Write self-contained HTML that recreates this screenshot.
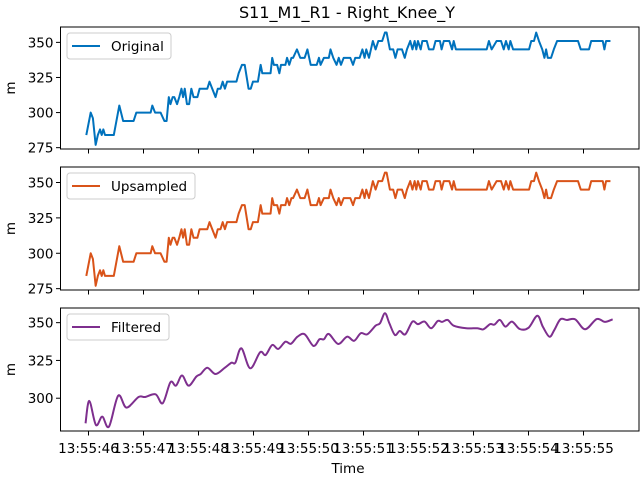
<!DOCTYPE html>
<html><head><meta charset="utf-8"><style>
body{margin:0;background:#fff;}
svg{display:block;font-family:"DejaVu Sans","Liberation Sans",sans-serif;}
</style></head><body>
<svg id="chart" width="640" height="480" viewBox="0 0 640 480" xmlns="http://www.w3.org/2000/svg">
<rect width="640" height="480" fill="#fff"/>
<text x="347" y="18" font-size="16" text-anchor="middle" fill="#000">S11_M1_R1 - Right_Knee_Y</text>
<text x="348" y="473" font-size="13.5" text-anchor="middle" fill="#000">Time</text>
</svg>
<script>
// time in seconds after 13:55:46
const rawTimes = [-0.04,0.04,0.08,0.13,0.17,0.21,0.24,0.27,0.30,0.46,0.56,0.63,0.82,0.87,1.13,1.16,1.21,1.31,1.38,1.42,1.46,1.49,1.53,1.56,1.61,1.65,1.69,1.72,1.75,1.79,1.83,1.87,1.91,1.98,2.02,2.16,2.20,2.25,2.31,2.35,2.40,2.44,2.48,2.52,2.69,2.73,2.79,2.84,2.91,2.95,2.99,3.08,3.13,3.16,3.31,3.34,3.37,3.43,3.47,3.50,3.58,3.61,3.65,3.69,3.72,3.79,3.85,3.93,3.98,4.04,4.15,4.19,4.22,4.28,4.37,4.40,4.45,4.51,4.55,4.59,4.64,4.76,4.81,4.85,4.93,4.98,5.02,5.05,5.10,5.17,5.22,5.27,5.34,5.39,5.42,5.48,5.54,5.58,5.62,5.70,5.75,5.79,5.85,5.89,5.93,5.96,5.99,6.04,6.07,6.15,6.19,6.27,6.31,6.39,6.42,6.46,6.56,6.61,6.64,6.68,7.24,7.28,7.33,7.42,7.50,7.55,7.59,7.64,7.67,7.72,8.01,8.05,8.10,8.14,8.19,8.25,8.29,8.32,8.35,8.41,8.46,8.52,8.90,8.95,9.10,9.14,9.35,9.38,9.41,9.49];
const rawValues = [284,300,296,277,284,288,284,288,284,284,305,294,294,300,300,305,300,300,294,294,311,306,311,311,306,311,317,311,317,306,306,317,311,311,317,317,322,317,311,317,317,322,317,322,322,328,334,334,317,317,322,322,334,328,328,339,334,334,328,334,334,339,334,339,339,345,339,339,345,334,334,339,334,339,339,345,339,334,339,334,339,339,334,339,339,345,339,345,339,351,345,351,351,357,357,345,345,339,345,345,339,345,351,345,351,345,351,345,351,351,345,345,351,351,345,351,351,345,351,345,345,351,345,351,351,345,351,345,351,345,345,351,351,357,351,345,339,345,339,339,345,351,351,345,345,351,351,345,351,351];
const filtTimes = [-0.054,0.014,0.135,0.25,0.372,0.54,0.69,0.91,1.03,1.22,1.35,1.49,1.59,1.70,1.82,1.96,2.04,2.16,2.31,2.48,2.60,2.67,2.78,2.94,3.12,3.22,3.34,3.45,3.58,3.68,3.80,3.93,4.09,4.20,4.28,4.37,4.54,4.70,4.83,4.95,5.07,5.22,5.30,5.39,5.47,5.57,5.66,5.76,5.89,5.99,6.11,6.23,6.35,6.43,6.53,6.64,6.87,7.07,7.18,7.30,7.38,7.48,7.58,7.70,7.84,8.0,8.16,8.26,8.38,8.47,8.58,8.70,8.85,9.03,9.24,9.39,9.53];
const filtValues = [283.4,298.2,282.3,287.8,281.2,301.7,293.8,300.8,300.8,302.6,296.7,310.6,308.3,315,308.3,314.3,316,320.2,316,320.2,323.5,323.5,333,319.8,330.4,328.6,335.2,332.6,337.4,336,340.7,342.3,334.6,339,339,342.5,335.9,340.7,338,343,342.3,348,349.6,356.2,349.6,341.9,344.5,342.3,350.7,349,350.7,346.3,351.1,350.5,351.8,348,346.3,346.3,345.6,349,348.7,351.8,347.4,350.7,345.8,346.6,354.6,347.4,340.7,345.2,352.2,351.8,352.2,345.6,352.4,350.5,352.2];
const xTickSeconds = [0,1,2,3,4,5,6,7,8,9];
const xTickLabels = ["13:55:46","13:55:47","13:55:48","13:55:49","13:55:50","13:55:51","13:55:52","13:55:53","13:55:54","13:55:55"];
const yTicksTop = [275,300,325,350];
const yTicksBottom = [300,325,350];

const NS="http://www.w3.org/2000/svg";
const svg=document.getElementById('chart');
const L=60.5,R=639;
const xs=t=>88.5+t*55;
function mk(tag,attrs,parent){const e=document.createElementNS(NS,tag);for(const k in attrs)e.setAttribute(k,attrs[k]);(parent||svg).appendChild(e);return e;}

const panels=[
 {top:27,bot:149,ymin:274.05,ymax:360.95,ticks:yTicksTop,color:'#0072BD',label:'Original',lw:104,t:rawTimes,v:rawValues,smooth:false,name:'original'},
 {top:167,bot:290,ymin:274.05,ymax:360.95,ticks:yTicksTop,color:'#D95319',label:'Upsampled',lw:128,t:rawTimes,v:rawValues,smooth:false,name:'upsampled'},
 {top:308,bot:431,ymin:278.3,ymax:359.7,ticks:yTicksBottom,color:'#7E2F8E',label:'Filtered',lw:102,t:filtTimes,v:filtValues,smooth:true,name:'filtered'}
];
panels.forEach((p,i)=>{
 const g=mk('g',{});
 
 
 const ys=v=>p.bot-(v-p.ymin)/(p.ymax-p.ymin)*(p.bot-p.top);
 const pts=p.t.map((t,k)=>[xs(t),ys(p.v[k])]);
 let d='M'+pts[0][0].toFixed(2)+','+pts[0][1].toFixed(2);
 if(!p.smooth){for(let k=1;k<pts.length;k++)d+='L'+pts[k][0].toFixed(2)+','+pts[k][1].toFixed(2);}
 else{for(let k=0;k<pts.length-1;k++){const p0=pts[Math.max(0,k-1)],p1=pts[k],p2=pts[k+1],p3=pts[Math.min(pts.length-1,k+2)];
  const c1=[p1[0]+(p2[0]-p0[0])/6,p1[1]+(p2[1]-p0[1])/6],c2=[p2[0]-(p3[0]-p1[0])/6,p2[1]-(p3[1]-p1[1])/6];
  d+='C'+c1[0].toFixed(2)+','+c1[1].toFixed(2)+' '+c2[0].toFixed(2)+','+c2[1].toFixed(2)+' '+p2[0].toFixed(2)+','+p2[1].toFixed(2);}}
 const line=mk('path',{d:d,fill:'none',stroke:p.color,'stroke-width':2,'stroke-linejoin':'round'},g);
 
 
 const fr=mk('rect',{x:L,y:p.top,width:R-L,height:p.bot-p.top,fill:'none',stroke:'#000','stroke-width':1},g);
 
 
 p.ticks.forEach(v=>{const y=ys(v);
  mk('line',{x1:L-4.5,x2:L,y1:y,y2:y,stroke:'#000','stroke-width':1},g);
  const tx=mk('text',{x:L-7,y:y+5,'font-size':13.5,'text-anchor':'end',fill:'#000'},g);tx.textContent=v;
  
  });
 const yl=mk('text',{x:15,y:(p.top+p.bot)/2,'font-size':13.5,'text-anchor':'middle',transform:'rotate(-90 15 '+(p.top+p.bot)/2+')',fill:'#000'},g);
 yl.textContent='m';
 
 
 xTickSeconds.forEach((s,k)=>{const x=xs(s);
  mk('line',{x1:x,x2:x,y1:p.bot,y2:p.bot+4.5,stroke:'#000','stroke-width':1},g);
  if(i===2){const tx=mk('text',{x:x,y:p.bot+22,'font-size':13.5,'text-anchor':'middle',fill:'#000'},g);tx.textContent=xTickLabels[k];
   
   }});
 const lg=mk('g',{},g);
 
 
 mk('rect',{x:67,y:p.top+6,width:p.lw,height:26,rx:3,fill:'#fff','fill-opacity':0.8,stroke:'#ccc','stroke-width':1},lg);
 mk('line',{x1:72,x2:100,y1:p.top+19,y2:p.top+19,stroke:p.color,'stroke-width':2},lg);
 const lt=mk('text',{x:111,y:p.top+24,'font-size':13.5,fill:'#000'},lg);lt.textContent=p.label;
});
</script>
</body></html>
